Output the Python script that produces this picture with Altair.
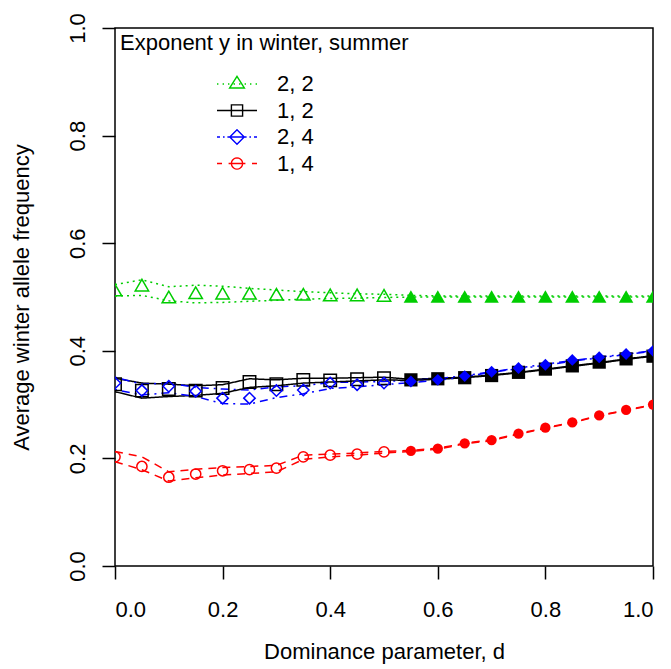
import math
import pandas as pd
import altair as alt

# dominance values
D = [0.0, 0.05, 0.1, 0.15, 0.2, 0.25, 0.3, 0.35, 0.4, 0.45, 0.5,
     0.55, 0.6, 0.65, 0.7, 0.75, 0.8, 0.85, 0.9, 0.95, 1.0]

SERIES = ["2, 2", "1, 2", "2, 4", "1, 4"]
COLORS = ["#00CD00", "#000000", "#0000FF", "#FF0000"]

# exponent 2, 2
GREEN_MEAN = [0.513, 0.522, 0.500, 0.508, 0.507, 0.507, 0.505, 0.505, 0.504, 0.504, 0.503,
              0.501, 0.501, 0.501, 0.501, 0.501, 0.501, 0.501, 0.501, 0.501, 0.501]
GREEN_UP = [0.523, 0.532, 0.519, 0.522, 0.520, 0.516, 0.513, 0.510, 0.508, 0.506, 0.505,
            0.503, 0.502, 0.502, 0.502, 0.502, 0.502, 0.502, 0.502, 0.502, 0.502]
GREEN_LO = [0.502, 0.503, 0.493, 0.489, 0.490, 0.492, 0.494, 0.496, 0.497, 0.498, 0.499,
            0.500, 0.500, 0.500, 0.500, 0.500, 0.500, 0.500, 0.500, 0.500, 0.500]

# exponent 1, 2
BLACK_MEAN = [0.338, 0.326, 0.329, 0.326, 0.331, 0.342, 0.338, 0.346, 0.345, 0.347, 0.349,
              0.346, 0.348, 0.350, 0.354, 0.360, 0.366, 0.372, 0.379, 0.385, 0.390]
BLACK_UP = [0.349, 0.340, 0.338, 0.335, 0.337, 0.348, 0.346, 0.349, 0.349, 0.350, 0.351,
            0.347, 0.349, 0.351, 0.355, 0.360, 0.366, 0.372, 0.378, 0.385, 0.391]
BLACK_LO = [0.324, 0.312, 0.315, 0.317, 0.321, 0.332, 0.335, 0.340, 0.342, 0.344, 0.346,
            0.345, 0.347, 0.350, 0.354, 0.359, 0.365, 0.371, 0.377, 0.384, 0.390]

# exponent 2, 4
BLUE_MEAN = [0.340, 0.326, 0.334, 0.325, 0.312, 0.312, 0.326, 0.327, 0.340, 0.337, 0.340,
             0.343, 0.346, 0.353, 0.361, 0.368, 0.374, 0.383, 0.388, 0.394, 0.400]
BLUE_UP = [0.351, 0.338, 0.340, 0.332, 0.329, 0.327, 0.333, 0.335, 0.341, 0.342, 0.343,
           0.345, 0.348, 0.354, 0.361, 0.368, 0.375, 0.382, 0.388, 0.394, 0.400]
BLUE_LO = [0.328, 0.318, 0.322, 0.315, 0.302, 0.301, 0.313, 0.320, 0.330, 0.333, 0.337,
           0.341, 0.345, 0.352, 0.360, 0.367, 0.373, 0.381, 0.387, 0.393, 0.399]

# exponent 1, 4
RED_MEAN = [0.203, 0.185, 0.165, 0.171, 0.177, 0.179, 0.182, 0.203, 0.206, 0.208, 0.212,
            0.214, 0.218, 0.228, 0.234, 0.246, 0.257, 0.267, 0.280, 0.290, 0.300]
RED_UP = [0.213, 0.203, 0.175, 0.180, 0.183, 0.185, 0.187, 0.206, 0.208, 0.210, 0.213,
          0.215, 0.219, 0.228, 0.235, 0.246, 0.257, 0.267, 0.280, 0.290, 0.300]
RED_LO = [0.194, 0.179, 0.158, 0.164, 0.169, 0.172, 0.175, 0.198, 0.203, 0.206, 0.210,
          0.213, 0.217, 0.227, 0.233, 0.245, 0.256, 0.266, 0.279, 0.289, 0.299]

TICKS = [0.0, 0.2, 0.4, 0.6, 0.8, 1.0]

FONT = "Liberation Sans"
FS = 22


def init_data():
    means = [GREEN_MEAN, BLACK_MEAN, BLUE_MEAN, RED_MEAN]
    ups = [GREEN_UP, BLACK_UP, BLUE_UP, RED_UP]
    lows = [GREEN_LO, BLACK_LO, BLUE_LO, RED_LO]
    rows = []
    for name, m, u, l in zip(SERIES, means, ups, lows):
        for i in range(len(D)):
            rows.append({'series': name, 'd': D[i], 'mean': m[i], 'upper': u[i], 'lower': l[i]})
    return pd.DataFrame(rows)


def legend_paths():
    # line + marker glyphs, unit box is [-1, 1]
    dots = ''.join(f'M{x},0h0.07' for x in [-1, -0.72, -0.45, -0.17, 0.1, 0.38, 0.65, 0.93])
    tri = 'M0,-0.38L0.37,0.2L-0.37,0.2Z'
    sq = 'M-0.28,-0.28H0.28V0.28H-0.28Z'
    dia = 'M0,-0.36L0.36,0L0,0.36L-0.36,0Z'
    pts = [(0.28 * math.cos(a * math.pi / 10), 0.28 * math.sin(a * math.pi / 10)) for a in range(20)]
    circ = 'M' + 'L'.join(f'{x:.3f},{y:.3f}' for x, y in pts) + 'Z'
    return [
        dots + tri,
        'M-1,0H1' + sq,
        'M-1,0H-0.85M-0.7,0H-0.62M-0.48,0H0.48M0.62,0H0.7M0.85,0H1' + dia,
        'M-1,0H-0.75M-0.42,0H0.42M0.75,0H1' + circ,
    ]


def draw(df):
    xenc = alt.X('d:Q',
                 scale=alt.Scale(domain=[0, 1], nice=False, zero=False),
                 axis=alt.Axis(values=TICKS, format='.1f', title='Dominance parameter, d',
                               labelBaseline='alphabetic', labelPadding=37,
                               titleBaseline='alphabetic', titleX=269, titleY=92,
                               titleAlign='center'))

    def yenc(field):
        return alt.Y(f'{field}:Q',
                     scale=alt.Scale(domain=[0, 1], nice=False, zero=False),
                     axis=alt.Axis(values=TICKS, format='.1f',
                                   title='Average winter allele frequency',
                                   labelAngle=270, labelAlign='center',
                                   labelBaseline='alphabetic', labelPadding=18,
                                   titleAngle=270, titleAlign='center',
                                   titleBaseline='alphabetic', titleX=-87, titleY=269))

    color = alt.Color('series:N', scale=alt.Scale(domain=SERIES, range=COLORS), legend=None)
    dash = alt.StrokeDash('series:N',
                          scale=alt.Scale(domain=SERIES, range=[[2, 4], [1, 0], [2, 5, 8, 5], [8, 6]]),
                          legend=None)
    shape = alt.Shape('series:N',
                      scale=alt.Scale(domain=SERIES, range=['triangle-up', 'square', 'diamond', 'circle']),
                      legend=None)

    base = alt.Chart(df)

    upper = base.mark_line(strokeWidth=1.5, clip=True).encode(xenc, yenc('upper'), color=color, strokeDash=dash)
    lower = base.mark_line(strokeWidth=1.5, clip=True).encode(xenc, yenc('lower'), color=color, strokeDash=dash)

    open_pts = base.transform_filter('datum.d <= 0.5').mark_point(
        filled=False, strokeWidth=1.5, opacity=1, clip=True
    ).encode(xenc, yenc('mean'), color=color, shape=shape,
             size=alt.Size('series:N', scale=alt.Scale(domain=SERIES, range=[180, 105, 180, 110]), legend=None))

    filled_pts = base.transform_filter('datum.d > 0.5').mark_point(
        filled=True, opacity=1, clip=True
    ).encode(xenc, yenc('mean'), color=color, shape=shape,
             size=alt.Size('series:N', scale=alt.Scale(domain=SERIES, range=[210, 105, 200, 125]), legend=None))

    leg = alt.Legend(
        title='Exponent y in winter, summer', orient='none', legendX=5, legendY=5,
        direction='vertical', padding=0,
        titleFont=FONT, titleFontSize=FS, titleFontWeight='normal', titleColor='black',
        titleLimit=500, titlePadding=18,
        labelFont=FONT, labelFontSize=FS, labelColor='black', labelLimit=200,
        symbolSize=1600, symbolStrokeWidth=1.4, symbolOffset=96, labelOffset=19,
        clipHeight=22, rowPadding=4.5,
    )
    # legend only: no marks drawn
    key = base.transform_filter('datum.d < 0').mark_point(filled=False, opacity=1).encode(
        xenc, yenc('mean'),
        stroke=alt.Stroke('series:N', scale=alt.Scale(domain=SERIES, range=COLORS), legend=leg),
        shape=alt.Shape('series:N', scale=alt.Scale(domain=SERIES, range=legend_paths()), legend=leg),
    )

    chart = alt.layer(upper, lower, open_pts, filled_pts, key).resolve_scale(
        shape='independent', size='independent', stroke='independent'
    ).properties(
        width=538, height=538,
        padding={'left': 107, 'top': 20, 'right': 10, 'bottom': 100},
        autosize=alt.AutoSizeParams(type='none'),
    ).configure_axis(
        labelFont=FONT, labelFontSize=FS, labelColor='black',
        titleFont=FONT, titleFontSize=FS, titleFontWeight='normal', titleColor='black',
        tickColor='black', tickWidth=1.5, tickSize=13, grid=False, domain=False,
    ).configure_view(
        stroke='black', strokeWidth=1.5
    )
    return chart


def main():
    df = init_data()
    chart = draw(df)
    chart.save('out.html', embed_options={'renderer': 'svg', 'actions': False})


if __name__ == "__main__":
    main()
